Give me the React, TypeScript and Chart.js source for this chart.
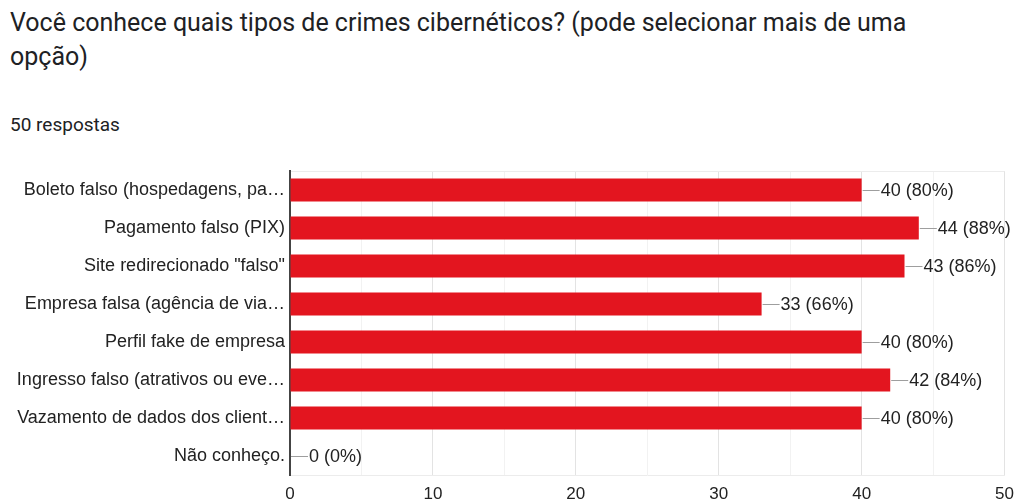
import React, { useEffect, useRef } from "react";
import { Chart, registerables } from "chart.js";

Chart.register(...registerables);

const TITLE = "Você conhece quais tipos de crimes cibernéticos? (pode selecionar mais de uma opção)";
const RESPONSES = 50;
const SUBTITLE = `${RESPONSES} respostas`;

const categories = [
  "Boleto falso (hospedagens, pa…",
  "Pagamento falso (PIX)",
  'Site redirecionado "falso"',
  "Empresa falsa (agência de via…",
  "Perfil fake de empresa",
  "Ingresso falso (atrativos ou eve…",
  "Vazamento de dados dos client…",
  "Não conheço.",
];
const counts = [40, 44, 43, 33, 40, 42, 40, 0];
const xTicks = [0, 10, 20, 30, 40, 50];

const valueLabels = {
  id: "valueLabels",
  afterDatasetsDraw(chart: any) {
    const { ctx } = chart;
    const meta = chart.getDatasetMeta(0);
    ctx.save();
    meta.data.forEach((bar: any, i: number) => {
      const v = counts[i];
      const x = bar.x;
      const y = Math.round(bar.y) + 0.5;
      ctx.strokeStyle = "#9e9e9e";
      ctx.lineWidth = 1;
      ctx.beginPath();
      ctx.moveTo(x + 1, y);
      ctx.lineTo(x + 18, y);
      ctx.stroke();
      ctx.fillStyle = "#222222";
      ctx.font = "18px 'Liberation Sans', Arial, sans-serif";
      ctx.textAlign = "left";
      ctx.textBaseline = "middle";
      ctx.fillText(`${v} (${Math.round((v / RESPONSES) * 100)}%)`, x + 19, y + 1);
    });
    ctx.restore();
  },
};

export default function App() {
  const ref = useRef<HTMLCanvasElement | null>(null);

  useEffect(() => {
    document.body.style.margin = "0";
    const canvas = ref.current;
    if (!canvas) return;
    const chart = new Chart(canvas, {
      type: "bar",
      data: {
        labels: categories,
        datasets: [
          {
            data: counts,
            backgroundColor: "#e3151f",
            borderWidth: 0,
            categoryPercentage: 1,
            barPercentage: 0.61,
          },
        ],
      },
      options: {
        indexAxis: "y",
        responsive: false,
        animation: false,
        maintainAspectRatio: false,
        layout: { padding: { top: 11, right: 17, left: 0, bottom: 0 } },
        plugins: {
          legend: { display: false },
          tooltip: { enabled: false },
          title: { display: false },
        },
        scales: {
          x: {
            min: 0,
            max: 50,
            afterBuildTicks(scale: any) {
              const t: any[] = [];
              for (let v = 0; v <= 50; v += 5) t.push({ value: v });
              scale.ticks = t;
            },
            afterFit(scale: any) {
              scale.height = 28;
            },
            ticks: {
              autoSkip: false,
              maxRotation: 0,
              padding: 9,
              color: "#222222",
              font: { family: "'Liberation Sans', Arial, sans-serif", size: 17 },
              callback: (v: any) => (xTicks.includes(Number(v)) ? String(v) : ""),
            },
            grid: {
              drawTicks: false,
              color: (c: any) =>
                c.tick && Number(c.tick.value) % 10 === 0 ? "#e3e3e3" : "#f2f2f2",
              lineWidth: 1,
            },
            border: { display: true, color: "#ececec", width: 1 },
          },
          y: {
            afterFit(scale: any) {
              scale.width = 290;
              scale.paddingTop = 0;
              scale.paddingBottom = 0;
            },
            ticks: {
              padding: 5,
              color: "#222222",
              font: { family: "'Liberation Sans', Arial, sans-serif", size: 18 },
            },
            grid: {
              drawTicks: false,
              color: (c: any) => (c.index === 0 ? "#ececec" : "rgba(0,0,0,0)"),
            },
            border: { display: true, color: "#444444", width: 2 },
          },
        },
      },
      plugins: [valueLabels],
    });
    return () => chart.destroy();
  }, []);

  return (
    <div style={{ position: "relative", width: 1023, height: 503, background: "#ffffff", overflow: "hidden" }}>
      <div
        style={{
          position: "absolute",
          left: 10,
          top: 6,
          width: 930,
          fontFamily: "Roboto, Arial, sans-serif",
          fontSize: 25,
          lineHeight: "34px",
          color: "#202124",
          fontWeight: 400,
        }}
      >
        {TITLE}
      </div>
      <div
        style={{
          position: "absolute",
          left: 10,
          top: 114,
          fontFamily: "Roboto, Arial, sans-serif",
          fontSize: 19,
          lineHeight: "22px",
          color: "#202124",
        }}
      >
        {SUBTITLE}
      </div>
      <canvas
        ref={ref}
        width={1023}
        height={343}
        style={{ position: "absolute", left: 0, top: 160, width: 1023, height: 343 }}
      />
    </div>
  );
}
